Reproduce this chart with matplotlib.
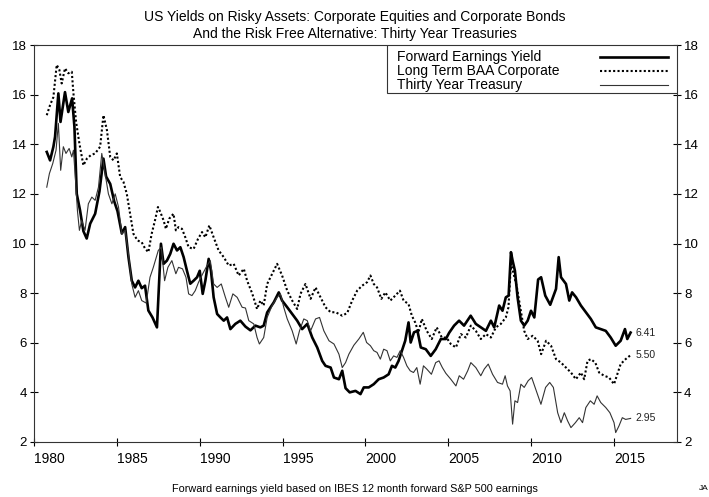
import matplotlib
matplotlib.use("Agg")
import matplotlib.pyplot as plt
from matplotlib.patches import Rectangle

plt.rcParams['font.family'] = ['Liberation Sans', 'DejaVu Sans']

# Forward earnings yield (S&P 500, IBES 12 month forward)
feyYears = [1980.77, 1980.97, 1981.17, 1981.27, 1981.47, 1981.6, 1981.87, 1982.07, 1982.3, 1982.44,
            1982.58, 1982.78, 1982.98, 1983.18, 1983.39, 1983.69, 1983.95, 1984.19, 1984.35, 1984.6,
            1984.84, 1985.04, 1985.3, 1985.5, 1985.7, 1985.9, 1986.1, 1986.3, 1986.5, 1986.7,
            1986.9, 1987.15, 1987.42, 1987.56, 1987.66, 1987.82, 1988.02, 1988.22, 1988.42, 1988.63,
            1988.83, 1989.03, 1989.23, 1989.43, 1989.63, 1989.84, 1990.0, 1990.18, 1990.34, 1990.54,
            1990.68, 1990.84, 1991.05, 1991.25, 1991.45, 1991.65, 1991.85, 1992.15, 1992.45, 1992.76,
            1993.06, 1993.36, 1993.66, 1993.86, 1994.07, 1994.27, 1994.47, 1994.77, 1994.97, 1995.28,
            1995.58, 1995.88, 1996.18, 1996.49, 1996.79, 1997.09, 1997.39, 1997.59, 1997.9, 1998.1,
            1998.4, 1998.6, 1998.8, 1999.05, 1999.4, 1999.7, 1999.9, 2000.2, 2000.5, 2000.8,
            2001.1, 2001.4, 2001.6, 2001.8, 2002.0, 2002.2, 2002.4, 2002.6, 2002.73, 2002.93,
            2003.14, 2003.34, 2003.64, 2003.94, 2004.24, 2004.55, 2004.85, 2005.05, 2005.35, 2005.65,
            2005.95, 2006.35, 2006.66, 2006.96, 2007.27, 2007.57, 2007.77, 2008.07, 2008.27, 2008.47,
            2008.64, 2008.78, 2008.88, 2009.02, 2009.18, 2009.38, 2009.58, 2009.79, 2009.99, 2010.19,
            2010.42, 2010.6, 2010.85, 2011.15, 2011.5, 2011.66, 2011.8, 2012.1, 2012.3, 2012.47,
            2012.71, 2013.0, 2013.3, 2013.6, 2013.9, 2014.2, 2014.5, 2014.8, 2015.1, 2015.4,
            2015.66, 2015.8, 2016.0]
feyValues = [13.69, 13.35, 13.9, 14.3, 16.05, 14.9, 16.1, 15.3, 15.85, 14.7,
             12.0, 11.33, 10.5, 10.2, 10.8, 11.2, 12.1, 13.42, 12.7, 12.4,
             11.7, 11.3, 10.4, 10.66, 9.45, 8.5, 8.23, 8.5, 8.2, 8.3,
             7.3, 7.02, 6.62, 8.64, 9.99, 9.18, 9.31, 9.58, 9.99, 9.72,
             9.85, 9.45, 8.9, 8.38, 8.5, 8.64, 8.9, 7.97, 8.5, 9.38,
             8.9, 7.83, 7.16, 7.02, 6.89, 7.02, 6.55, 6.76, 6.89, 6.65,
             6.5, 6.69, 6.62, 6.69, 7.22, 7.43, 7.63, 8.03, 7.7, 7.43,
             7.16, 6.89, 6.55, 6.76, 6.21, 5.81, 5.27, 5.07, 5.0, 4.6,
             4.53, 4.87, 4.17, 4.0, 4.06, 3.93, 4.2, 4.2, 4.33, 4.53,
             4.6, 4.73, 5.07, 5.0, 5.27, 5.68, 6.08, 6.82, 6.01, 6.42,
             6.48, 5.81, 5.74, 5.47, 5.74, 6.15, 6.15, 6.4, 6.69, 6.89,
             6.69, 7.09, 6.76, 6.62, 6.48, 6.89, 6.62, 7.5, 7.29, 7.83,
             7.9, 9.65, 9.31, 8.9, 7.83, 6.89, 6.69, 6.89, 7.29, 7.02,
             8.55, 8.64, 7.9, 7.53, 8.17, 9.45, 8.64, 8.37, 7.7, 8.03,
             7.83, 7.5, 7.23, 6.96, 6.62, 6.55, 6.48, 6.21, 5.88, 6.08,
             6.55, 6.15, 6.41]

# Long term BAA corporate bond yield
baaYears = [1980.77, 1980.97, 1981.17, 1981.37, 1981.53, 1981.67, 1981.87, 1982.07, 1982.28, 1982.38,
            1982.54, 1982.74, 1982.98, 1983.19, 1983.43, 1983.69, 1983.99, 1984.19, 1984.4, 1984.6,
            1984.8, 1985.0, 1985.2, 1985.4, 1985.6, 1985.8, 1986.0, 1986.25, 1986.5, 1986.7,
            1986.9, 1987.1, 1987.3, 1987.48, 1987.62, 1987.82, 1987.96, 1988.16, 1988.42, 1988.56,
            1988.72, 1988.93, 1989.13, 1989.33, 1989.63, 1989.9, 1990.14, 1990.34, 1990.58, 1990.84,
            1991.14, 1991.45, 1991.75, 1992.05, 1992.35, 1992.66, 1992.86, 1993.16, 1993.46, 1993.66,
            1993.86, 1994.07, 1994.37, 1994.67, 1994.97, 1995.28, 1995.58, 1995.88, 1996.08, 1996.38,
            1996.69, 1996.99, 1997.29, 1997.59, 1997.9, 1998.2, 1998.6, 1998.9, 1999.2, 1999.5,
            1999.8, 2000.1, 2000.3, 2000.5, 2000.7, 2000.96, 2001.2, 2001.5, 2001.8, 2002.08,
            2002.3, 2002.6, 2002.8, 2003.0, 2003.2, 2003.4, 2003.7, 2004.0, 2004.3, 2004.6,
            2004.9, 2005.15, 2005.46, 2005.76, 2006.06, 2006.36, 2006.66, 2006.96, 2007.27, 2007.57,
            2007.87, 2008.17, 2008.47, 2008.63, 2008.78, 2008.94, 2009.14, 2009.34, 2009.58, 2009.79,
            2010.09, 2010.39, 2010.6, 2010.9, 2011.2, 2011.5, 2011.8, 2012.1, 2012.4, 2012.7,
            2013.0, 2013.2, 2013.4, 2013.6, 2013.87, 2014.1, 2014.4, 2014.7, 2015.0, 2015.2,
            2015.4, 2015.7, 2016.0]
baaValues = [15.17, 15.58, 15.9, 17.2, 17.0, 16.45, 17.06, 16.86, 16.92, 16.05,
             14.9, 14.03, 13.15, 13.42, 13.56, 13.63, 13.9, 15.17, 14.57, 13.49,
             13.35, 13.63, 12.68, 12.48, 12.0, 11.2, 10.39, 10.12, 10.05, 9.8,
             9.65, 10.39, 10.93, 11.47, 11.27, 10.93, 10.59, 11.0, 11.2, 10.53,
             10.66, 10.59, 10.25, 9.85, 9.78, 10.19, 10.46, 10.25, 10.73, 10.25,
             9.72, 9.45, 9.11, 9.18, 8.71, 8.98, 8.5, 8.0, 7.36, 7.7,
             7.5, 8.37, 8.78, 9.18, 8.71, 8.1, 7.7, 7.36, 7.97, 8.37,
             7.77, 8.23, 7.83, 7.43, 7.23, 7.23, 7.09, 7.2, 7.7, 8.1,
             8.3, 8.44, 8.71, 8.37, 8.23, 7.77, 8.03, 7.7, 7.9, 8.1,
             7.7, 7.56, 7.09, 6.82, 6.42, 6.96, 6.48, 6.15, 6.62, 6.22,
             6.2, 5.95, 5.81, 6.35, 6.21, 6.69, 6.48, 6.15, 6.35, 6.21,
             6.62, 6.76, 7.02, 7.43, 9.18, 8.78, 8.23, 7.43, 6.48, 6.15,
             6.28, 6.08, 5.54, 6.08, 5.88, 5.34, 5.2, 5.0, 4.8, 4.53,
             4.8, 4.53, 5.27, 5.34, 5.2, 4.8, 4.67, 4.6, 4.33, 4.73,
             5.14, 5.34, 5.50]

# Thirty year treasury yield
tsyYears = [1980.77, 1980.93, 1981.13, 1981.33, 1981.47, 1981.61, 1981.77, 1981.93, 1982.12, 1982.28,
            1982.38, 1982.52, 1982.62, 1982.74, 1982.88, 1983.08, 1983.28, 1983.49, 1983.69, 1983.89,
            1984.09, 1984.29, 1984.49, 1984.7, 1984.9, 1985.1, 1985.3, 1985.5, 1985.7, 1985.9,
            1986.1, 1986.3, 1986.5, 1986.77, 1987.0, 1987.2, 1987.5, 1987.68, 1987.88, 1988.08,
            1988.32, 1988.56, 1988.72, 1988.96, 1989.17, 1989.33, 1989.53, 1989.73, 1989.93, 1990.18,
            1990.44, 1990.64, 1990.84, 1991.05, 1991.3, 1991.55, 1991.75, 1992.0, 1992.26, 1992.56,
            1992.76, 1992.96, 1993.26, 1993.46, 1993.6, 1993.86, 1994.07, 1994.37, 1994.67, 1994.87,
            1995.07, 1995.28, 1995.58, 1995.82, 1996.02, 1996.28, 1996.49, 1996.69, 1996.99, 1997.23,
            1997.49, 1997.8, 1998.1, 1998.4, 1998.6, 1998.8, 1999.0, 1999.3, 1999.6, 1999.87,
            2000.07, 2000.3, 2000.5, 2000.7, 2000.9, 2001.1, 2001.3, 2001.5, 2001.7, 2001.9,
            2002.1, 2002.3, 2002.5, 2002.7, 2002.9, 2003.1, 2003.3, 2003.5, 2003.7, 2003.98,
            2004.24, 2004.44, 2004.64, 2004.85, 2005.15, 2005.46, 2005.66, 2005.92, 2006.17, 2006.36,
            2006.66, 2006.96, 2007.17, 2007.41, 2007.67, 2007.97, 2008.27, 2008.43, 2008.57, 2008.73,
            2008.88, 2009.02, 2009.18, 2009.38, 2009.58, 2009.82, 2010.03, 2010.24, 2010.59, 2010.87,
            2011.12, 2011.34, 2011.6, 2011.8, 2012.0, 2012.2, 2012.4, 2012.67, 2012.9, 2013.1,
            2013.3, 2013.57, 2013.8, 2013.98, 2014.2, 2014.5, 2014.75, 2015.0, 2015.1, 2015.3,
            2015.5, 2015.7, 2016.0]
tsyValues = [12.27, 12.82, 13.22, 13.76, 14.84, 12.95, 13.9, 13.63, 13.83, 13.49,
             13.76, 12.41, 11.33, 10.53, 10.93, 10.53, 11.6, 11.87, 11.74, 12.27,
             13.63, 12.82, 12.0, 11.6, 12.0, 11.47, 10.39, 10.53, 9.58, 8.37,
             7.83, 8.1, 7.7, 7.6, 8.64, 9.04, 9.72, 9.85, 8.5, 9.04,
             9.31, 8.78, 9.04, 8.98, 8.64, 7.97, 7.9, 8.1, 8.44, 8.78,
             9.11, 9.31, 8.37, 8.23, 8.37, 7.83, 7.43, 7.97, 7.83, 7.43,
             7.4, 6.89, 6.76, 6.21, 5.95, 6.21, 7.02, 7.5, 7.83, 7.97,
             7.43, 6.96, 6.48, 5.95, 6.48, 6.96, 6.89, 6.48, 6.96, 7.02,
             6.48, 6.08, 5.95, 5.54, 5.0, 5.2, 5.54, 5.9, 6.15, 6.42,
             6.01, 5.88, 5.68, 5.61, 5.34, 5.74, 5.68, 5.27, 5.47, 5.41,
             5.68, 5.41, 5.07, 4.87, 4.8, 5.0, 4.33, 5.07, 4.94, 4.73,
             5.2, 5.27, 5.0, 4.77, 4.53, 4.26, 4.67, 4.53, 4.87, 5.2,
             5.0, 4.67, 4.94, 5.14, 4.73, 4.4, 4.33, 4.67, 4.26, 4.06,
             2.72, 3.66, 3.59, 4.33, 4.2, 4.47, 4.6, 4.2, 3.52, 4.2,
             4.4, 4.2, 3.18, 2.78, 3.18, 2.85, 2.58, 2.78, 2.98, 2.78,
             3.39, 3.66, 3.52, 3.86, 3.59, 3.39, 3.18, 2.78, 2.38, 2.65,
             2.98, 2.91, 2.95]

seriesLabels = ['Forward Earnings Yield', 'Long Term BAA Corporate', 'Thirty Year Treasury']
endLabels = ['6.41', '5.50', '2.95']
yearTicks = [1980, 1985, 1990, 1995, 2000, 2005, 2010, 2015]
yieldTicks = [2, 4, 6, 8, 10, 12, 14, 16, 18]

fig = plt.figure(figsize=(7.09, 4.97), dpi=100)
ax = fig.add_axes([34/709., 55/497., 643/709., 397/497.])

feyStyle = dict(color='black', lw=1.9)
baaStyle = dict(color='black', lw=1.5, linestyle=(0, (1, 1.1)))
tsyStyle = dict(color='#333333', lw=0.8)

ax.plot(feyYears, feyValues, **feyStyle)
ax.plot(baaYears, baaValues, **baaStyle)
ax.plot(tsyYears, tsyValues, **tsyStyle)

# value labels at the end of each line
ends = [(feyYears, feyValues), (baaYears, baaValues), (tsyYears, tsyValues)]
for (xs, ys), txt in zip(ends, endLabels):
    ax.text(xs[-1] + 0.3, ys[-1], txt, fontsize=7.5, va='center', ha='left', color='#222222')

ax.set_xlim(1980, 2018.8)
ax.set_ylim(2, 18)
ax.set_xticks(yearTicks)
ax.set_yticks(yieldTicks)
ax.tick_params(axis='both', direction='inout', length=6, width=0.8, labelsize=9.5, colors='black')
ax.tick_params(axis='y', right=True, labelright=True, pad=2)
ax.tick_params(axis='x', pad=4, labelsize=10)
for lbl in ax.get_xticklabels():
    lbl.set_horizontalalignment('left')
for s in ax.spines.values():
    s.set_linewidth(0.8)
    s.set_color('#333333')

# legend box drawn by hand: text on the left, line samples on the right
legX0 = (387 - 34) / 643.
legY0 = 1 - 48 / 397.
ax.add_patch(Rectangle((legX0, legY0), 1 - legX0, 1 - legY0, transform=ax.transAxes,
                       facecolor='white', edgecolor='#333333', lw=0.8, zorder=5))
rowY = [1 - 12 / 397., 1 - 26 / 397., 1 - 39.5 / 397.]
for yy, lab, st in zip(rowY, seriesLabels, [feyStyle, baaStyle, tsyStyle]):
    ax.text((397 - 34) / 643., yy, lab, transform=ax.transAxes, fontsize=10,
            va='center', ha='left', zorder=6)
    ax.plot([(600 - 34) / 643., (668 - 34) / 643.], [yy, yy], transform=ax.transAxes,
            zorder=6, **st)

fig.text(0.5, 1 - 17/497., 'US Yields on Risky Assets: Corporate Equities and Corporate Bonds',
         ha='center', va='center', fontsize=10)
fig.text(0.5, 1 - 34/497., 'And the Risk Free Alternative: Thirty Year Treasuries',
         ha='center', va='center', fontsize=10)
fig.text(355/709., 1 - 489/497., 'Forward earnings yield based on IBES 12 month forward S&P 500 earnings',
         ha='center', va='center', fontsize=7.8)
fig.text(699/709., 1 - 489/497., 'JA', ha='left', va='center', fontsize=6)

plt.savefig('out.png', dpi=100)
